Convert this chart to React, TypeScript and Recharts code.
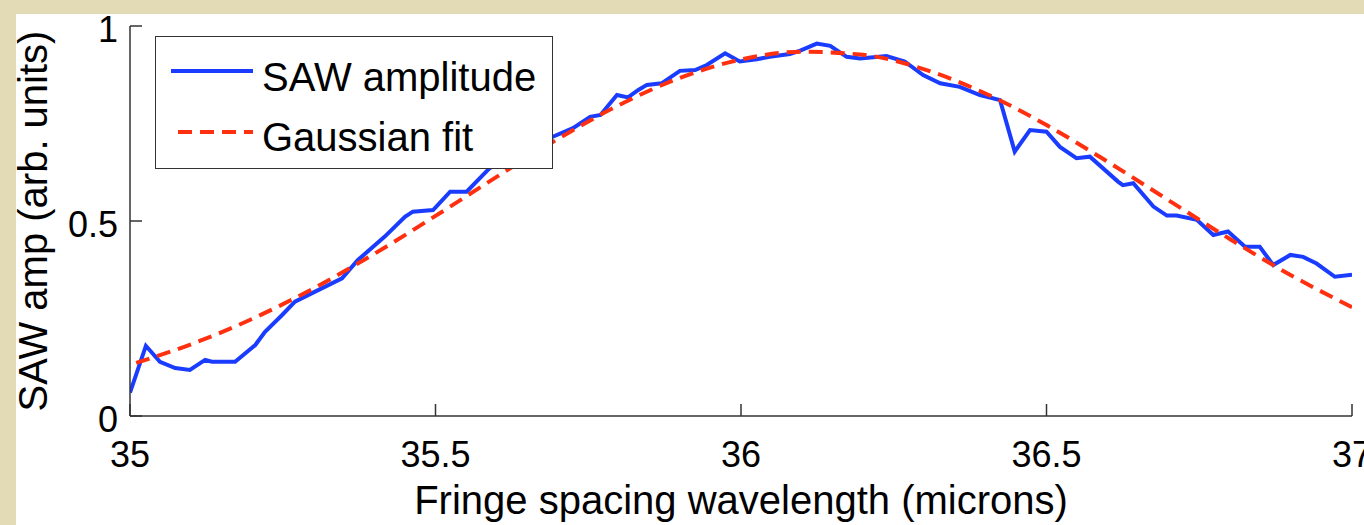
import React from 'react'
import { LineChart, Line, XAxis, YAxis, Label } from 'recharts'

// SAW amplitude trace (vertices)
const ampX = [
  35.0, 35.026, 35.049, 35.074, 35.098, 35.123, 35.134, 35.172, 35.205, 35.221,
  35.249, 35.27, 35.298, 35.347, 35.373, 35.417, 35.45, 35.463, 35.496, 35.524,
  35.551, 35.589, 35.692, 35.725, 35.753, 35.77, 35.797, 35.815, 35.832, 35.846,
  35.87, 35.9, 35.925, 35.944, 35.974, 35.998, 36.026, 36.047, 36.08, 36.097,
  36.124, 36.146, 36.173, 36.195, 36.238, 36.268, 36.298, 36.326, 36.358, 36.391,
  36.424, 36.448, 36.473, 36.5, 36.522, 36.549, 36.571, 36.617, 36.625, 36.642,
  36.675, 36.697, 36.713, 36.746, 36.773, 36.797, 36.825, 36.849, 36.871, 36.899,
  36.92, 36.942, 36.972, 37.0,
]
const ampY = [
  0.06, 0.18, 0.139, 0.123, 0.118, 0.144, 0.139, 0.139, 0.182, 0.216,
  0.259, 0.293, 0.315, 0.353, 0.4, 0.46, 0.511, 0.524, 0.528, 0.575,
  0.575, 0.636, 0.716, 0.738, 0.767, 0.772, 0.823, 0.817, 0.836, 0.849,
  0.853, 0.885, 0.887, 0.9, 0.93, 0.909, 0.915, 0.921, 0.928, 0.937,
  0.955, 0.949, 0.921, 0.917, 0.923, 0.909, 0.874, 0.853, 0.844, 0.823,
  0.81, 0.678, 0.733, 0.729, 0.69, 0.661, 0.665, 0.601, 0.592, 0.597,
  0.537, 0.514, 0.514, 0.503, 0.464, 0.473, 0.434, 0.434, 0.387, 0.413,
  0.408, 0.391, 0.357, 0.362,
]

// Gaussian fit curve
const fitX = [
  35.01, 35.1, 35.2, 35.3, 35.4, 35.5, 35.6, 35.7, 35.8, 35.9, 36.0,
  36.1, 36.2, 36.3, 36.4, 36.5, 36.6, 36.7, 36.8, 36.9, 37.0,
]
const fitY = [
  0.136, 0.184, 0.249, 0.327, 0.416, 0.513, 0.613, 0.71, 0.797, 0.867, 0.914,
  0.934, 0.926, 0.889, 0.827, 0.746, 0.652, 0.553, 0.454, 0.361, 0.279,
]

const xTicks = [35, 35.5, 36, 36.5, 37]
const yTicks = [0, 0.5, 1]

const BLUE = '#1a3cff'
const RED = '#ff3010'
const AXIS = '#333333'
const FONT = '"Liberation Sans", Arial, Helvetica, sans-serif'
const TICK_LEN = 12
const X_MARGIN = 25
const Y_MARGIN = 12

const legendItems = [
  { name: 'SAW amplitude', color: BLUE, dash: undefined as string | undefined },
  { name: 'Gaussian fit', color: RED, dash: '14 8' },
]

const ampData = ampX.map((x, i) => ({ x, y: ampY[i] }))
const fitData = fitX.map((x, i) => ({ x, y: fitY[i] }))

const BottomTick = (props: any) => {
  const { x, y, payload } = props
  const axisY = y - X_MARGIN
  return (
    <g>
      <line x1={x} x2={x} y1={axisY} y2={axisY - TICK_LEN} stroke={AXIS} strokeWidth={1.5} />
      <text x={x} y={y} dy="0.71em" textAnchor="middle" fontSize={36} fontFamily={FONT} fill="#000">
        {payload.value}
      </text>
    </g>
  )
}

const LeftTick = (props: any) => {
  const { x, y, payload } = props
  const axisX = x + Y_MARGIN
  return (
    <g>
      <line x1={axisX} x2={axisX + TICK_LEN} y1={y} y2={y} stroke={AXIS} strokeWidth={1.5} />
      <text x={x} y={y + 3} dy="0.355em" textAnchor="end" fontSize={36} fontFamily={FONT} fill="#000">
        {payload.value}
      </text>
    </g>
  )
}

const TopTick = (props: any) => {
  const { x, y } = props
  return <line x1={x} x2={x} y1={y} y2={y + TICK_LEN} stroke={AXIS} strokeWidth={1.5} />
}

const RightTick = (props: any) => {
  const { x, y } = props
  return <line x1={x} x2={x - TICK_LEN} y1={y} y2={y} stroke={AXIS} strokeWidth={1.5} />
}

const Legend = () => (
  <div
    style={{
      position: 'absolute',
      left: 155,
      top: 36,
      width: 396,
      height: 131,
      background: '#fff',
      border: `1.5px solid ${AXIS}`,
    }}
  >
    <svg width={396} height={131}>
      {legendItems.map((item, i) => (
        <g key={item.name}>
          <line
            x1={item.dash ? 22 : 15}
            x2={97}
            y1={34 + i * 61}
            y2={34 + i * 61}
            stroke={item.color}
            strokeWidth={4}
            strokeDasharray={item.dash}
          />
          <text x={106} y={54 + i * 60} fontSize={40} fontFamily={FONT} fill="#000">
            {item.name}
          </text>
        </g>
      ))}
    </svg>
  </div>
)

export default function App() {
  return (
    <div style={{ position: 'relative', width: 1364, height: 525, background: '#e2dbb6', overflow: 'hidden' }}>
      <style>{'body{margin:0}'}</style>
      <div style={{ position: 'absolute', left: 16, top: 14, right: 0, bottom: 0, background: '#fff' }} />
      <div style={{ position: 'absolute', left: 0, top: 0 }}>
        <LineChart width={1364} height={525} margin={{ top: 26, right: 12, left: 30, bottom: 49 }}>
          <XAxis
            xAxisId="bottom"
            dataKey="x"
            type="number"
            domain={[35, 37]}
            ticks={xTicks}
            allowDataOverflow
            height={60}
            tickSize={0}
            tickMargin={X_MARGIN}
            tick={(p: any) => <BottomTick {...p} />}
            axisLine={{ stroke: AXIS, strokeWidth: 1.5 }}
            tickLine={false}
          >
            <Label
              value="Fringe spacing wavelength (microns)"
              position="bottom"
              offset={10}
              fontSize={40}
              fontFamily={FONT}
              fill="#000"
            />
          </XAxis>
          <XAxis
            xAxisId="top"
            orientation="top"
            dataKey="x"
            type="number"
            domain={[35, 37]}
            ticks={xTicks}
            allowDataOverflow
            height={0}
            tickSize={0}
            tickMargin={0}
            tick={(p: any) => <TopTick {...p} />}
            axisLine={{ stroke: AXIS, strokeWidth: 1.5 }}
            tickLine={false}
          />
          <YAxis
            yAxisId="left"
            dataKey="y"
            type="number"
            domain={[0, 1]}
            ticks={yTicks}
            allowDataOverflow
            width={100}
            tickSize={0}
            tickMargin={Y_MARGIN}
            tick={(p: any) => <LeftTick {...p} />}
            axisLine={{ stroke: AXIS, strokeWidth: 1.5 }}
            tickLine={false}
          >
            <Label
              content={(props: any) => {
                const vb = props.viewBox
                const cx = vb.x + 17
                const cy = vb.y + vb.height / 2
                return (
                  <text
                    x={cx}
                    y={cy}
                    transform={`rotate(-90, ${cx}, ${cy})`}
                    textAnchor="middle"
                    fontSize={40}
                    fontFamily={FONT}
                    fill="#000"
                  >
                    SAW amp (arb. units)
                  </text>
                )
              }}
            />
          </YAxis>
          <YAxis
            yAxisId="right"
            orientation="right"
            dataKey="y"
            type="number"
            domain={[0, 1]}
            ticks={yTicks}
            allowDataOverflow
            width={0}
            tickSize={0}
            tickMargin={0}
            tick={(p: any) => <RightTick {...p} />}
            axisLine={{ stroke: AXIS, strokeWidth: 1.5 }}
            tickLine={false}
          />
          <Line
            xAxisId="bottom"
            yAxisId="left"
            data={ampData}
            dataKey="y"
            type="linear"
            stroke={BLUE}
            strokeWidth={4}
            dot={false}
            isAnimationActive={false}
          />
          <Line
            xAxisId="top"
            yAxisId="right"
            data={fitData}
            dataKey="y"
            type="monotone"
            stroke={RED}
            strokeWidth={4}
            strokeDasharray="14 8"
            dot={false}
            isAnimationActive={false}
          />
        </LineChart>
      </div>
      <Legend />
    </div>
  )
}
